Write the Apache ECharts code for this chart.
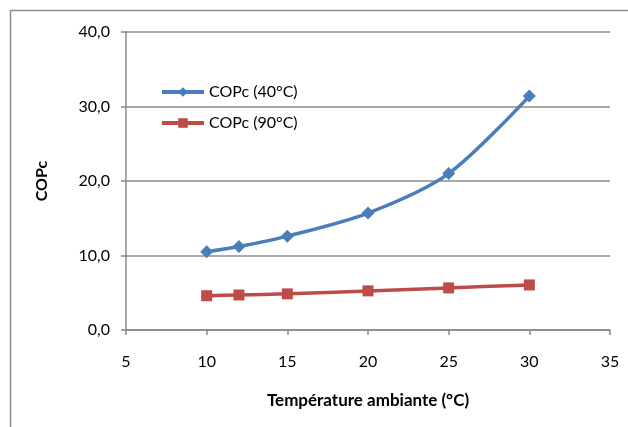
<!DOCTYPE html>
<html><head><meta charset="utf-8">
<script src="https://cdn.jsdelivr.net/npm/echarts@6/dist/echarts.min.js"></script>
<style>html,body{margin:0;padding:0;background:#fff}#c{width:628px;height:427px}</style>
</head><body><div id="c"></div>
<script>
var temps = [10, 12, 15, 20, 25, 30];
var cop40 = [10.5, 11.2, 12.6, 15.7, 21.0, 31.4];
var cop90 = [4.6, 4.7, 4.85, 5.25, 5.65, 6.05];
var seriesNames = ['COPc (40°C)', 'COPc (90°C)'];
var xName = 'Température ambiante (°C)';
var yName = 'COPc';

function pairs(xs, ys){ return xs.map(function(x,i){ return [x, ys[i]]; }); }
var font = 'Lato, "Open Sans", sans-serif';
var chart = echarts.init(document.getElementById('c'));
chart.setOption({
  animation: false,
  textStyle: {fontFamily: font},
  graphic: [{type:'rect', shape:{x:10.5, y:10.5, width:640, height:440}, style:{fill:'none', stroke:'#8c8c8c', lineWidth:1.5}, z:-1}],
  grid: {left:126, right:18, top:32, bottom:97},
  legend: {
    orient:'vertical', left:155, top:79, itemGap:15, itemWidth:42, itemHeight:12,
    lineStyle:{width:4},
    textStyle:{fontSize:16, color:'#000', fontFamily:font},
    data: seriesNames.map(function(n){ return {name:n}; })
  },
  xAxis: {
    type:'value', min:5, max:35, interval:5,
    name:xName, nameLocation:'middle', nameGap:62,
    nameTextStyle:{fontWeight:'bold', fontSize:17, color:'#000'},
    axisLine:{lineStyle:{color:'#888', width:1.5}},
    axisTick:{show:true, length:5, lineStyle:{color:'#888', width:1.5}},
    axisLabel:{fontSize:16, color:'#000', margin:24},
    splitLine:{show:false}
  },
  yAxis: {
    type:'value', min:0, max:40, interval:10,
    name:yName, nameLocation:'middle', nameGap:76,
    nameTextStyle:{fontWeight:'bold', fontSize:16, color:'#000'},
    axisLine:{show:true, lineStyle:{color:'#888', width:1.5}},
    axisTick:{show:true, length:5, lineStyle:{color:'#888', width:1.5}},
    axisLabel:{fontSize:16, color:'#000', margin:16, formatter:function(v){ return v.toFixed(1).replace('.', ','); }},
    splitLine:{show:true, lineStyle:{color:'#8c8c8c', width:1.5}}
  },
  series: [
    {name:seriesNames[0], type:'line', smooth:0.3, data:pairs(temps, cop40),
     symbol:'diamond', symbolSize:13, lineStyle:{width:3.5, color:'#4a7ebb'},
     itemStyle:{color:'#4a7ebb'}},
    {name:seriesNames[1], type:'line', smooth:0.3, data:pairs(temps, cop90),
     symbol:'rect', symbolSize:11, lineStyle:{width:3.5, color:'#be4b48'},
     itemStyle:{color:'#be4b48'}}
  ]
});
</script></body></html>
